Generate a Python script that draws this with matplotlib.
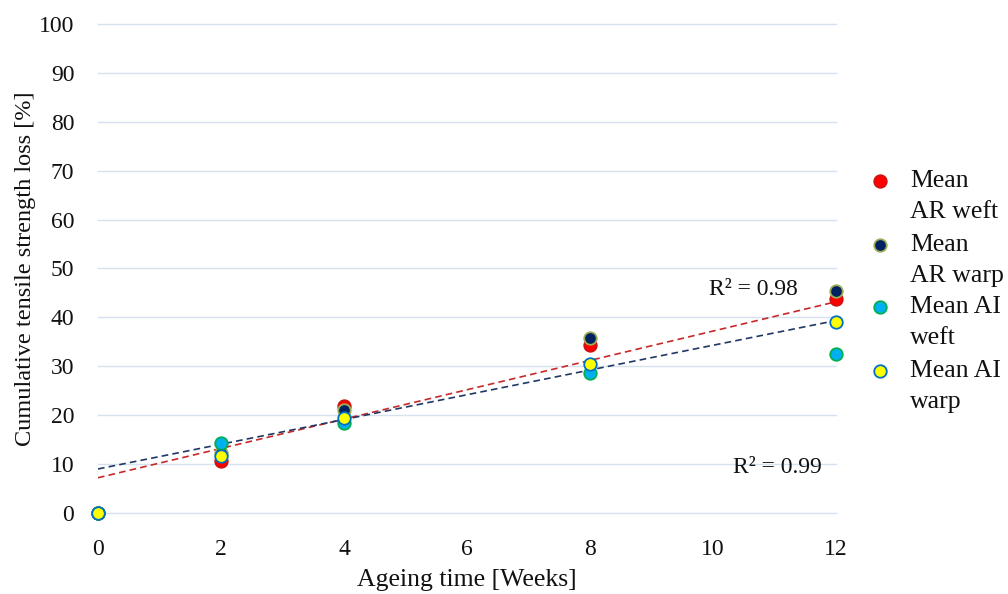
import matplotlib
matplotlib.use("Agg")
import matplotlib.pyplot as plt
import numpy as np

# ageing time in weeks
weeks = [0, 2, 4, 8, 12]

# cumulative tensile strength loss [%]
ar_weft = [0.0, 10.6, 21.8, 34.3, 43.8]
ar_warp = [0.0, 12.3, 21.0, 35.8, 45.3]
ai_weft = [0.0, 14.4, 18.4, 28.6, 32.5]
ai_warp = [0.0, 11.7, 19.4, 30.5, 39.1]

series_labels = ["Mean\nAR weft", "Mean\nAR warp", "Mean AI\nweft", "Mean AI\nwarp"]

# linear trend lines: (intercept, slope)
trend_red = (7.2, 3.0)
trend_blue = (9.0, 2.53)
r2_labels = ["R\u00b2 = 0.98", "R\u00b2 = 0.99"]

FONT = "Liberation Serif"
plt.rcParams["font.family"] = [FONT, "DejaVu Serif"]
TEXT = "#111111"

STYLES = [
    {"face": "#ff0000", "edge": "#d01010"},
    {"face": "#002060", "edge": "#9aae5a"},
    {"face": "#00b0f0", "edge": "#00b050"},
    {"face": "#ffff00", "edge": "#0070c0"},
]

fig = plt.figure(figsize=(10.08, 5.94), dpi=100)
ax = fig.add_axes([0.0972, 0.1364, 0.7322, 0.8232])

x_fit = np.array([weeks[0], weeks[-1]])
ax.plot(x_fit, trend_red[0] + trend_red[1] * x_fit, color="#c8282a",
        linestyle=(0, (4, 2.5)), linewidth=1.2, zorder=2)
ax.plot(x_fit, trend_blue[0] + trend_blue[1] * x_fit, color="#203864",
        linestyle=(0, (4, 2.5)), linewidth=1.2, zorder=2)

for values, st in zip([ar_weft, ar_warp, ai_weft, ai_warp], STYLES):
    ax.plot(weeks, values, linestyle="none", marker="o", markersize=9,
            markerfacecolor=st["face"], markeredgecolor=st["edge"],
            markeredgewidth=1.3, clip_on=False, zorder=3)

ax.text(10.65, 45.8, r2_labels[0], ha="center", va="center", fontsize=17, color=TEXT)
ax.text(11.04, 9.4, r2_labels[1], ha="center", va="center", fontsize=17, color=TEXT)

ax.set_xlim(0, 12)
ax.set_ylim(0, 100)
ax.set_xticks([0, 2, 4, 6, 8, 10, 12])
ax.set_yticks(np.arange(0, 101, 10))
ax.grid(axis="y", color="#d6e2f0", linewidth=1.0, zorder=0)
for gl in ax.get_ygridlines():
    gl.set_clip_on(False)
ax.set_axisbelow(True)
for side in ["top", "right", "left", "bottom"]:
    ax.spines[side].set_visible(False)
ax.tick_params(axis="both", length=0, labelsize=17, colors=TEXT)
ax.tick_params(axis="y", pad=17)
ax.tick_params(axis="x", pad=19)

ax.set_xlabel("Ageing time [Weeks]", fontsize=18.5, color=TEXT, labelpad=6)
ax.set_ylabel("Cumulative tensile strength loss [%]", fontsize=17.5, color=TEXT, labelpad=2)

# legend: marker aligned with the first line of a wrapped label
legend_y = [0.695, 0.5875, 0.483, 0.3754]
line_gap = 31 / 594
for label, st, y in zip(series_labels, STYLES, legend_y):
    ax.plot([0.873], [y], transform=fig.transFigure, marker="o", markersize=9,
            markerfacecolor=st["face"], markeredgecolor=st["edge"],
            markeredgewidth=1.3, linestyle="none", clip_on=False)
    for k, line in enumerate(label.split("\n")):
        fig.text(0.903, y - k * line_gap, line, ha="left", va="center",
                 fontsize=18.5, color=TEXT)

fig.savefig("out.png", dpi=100)
